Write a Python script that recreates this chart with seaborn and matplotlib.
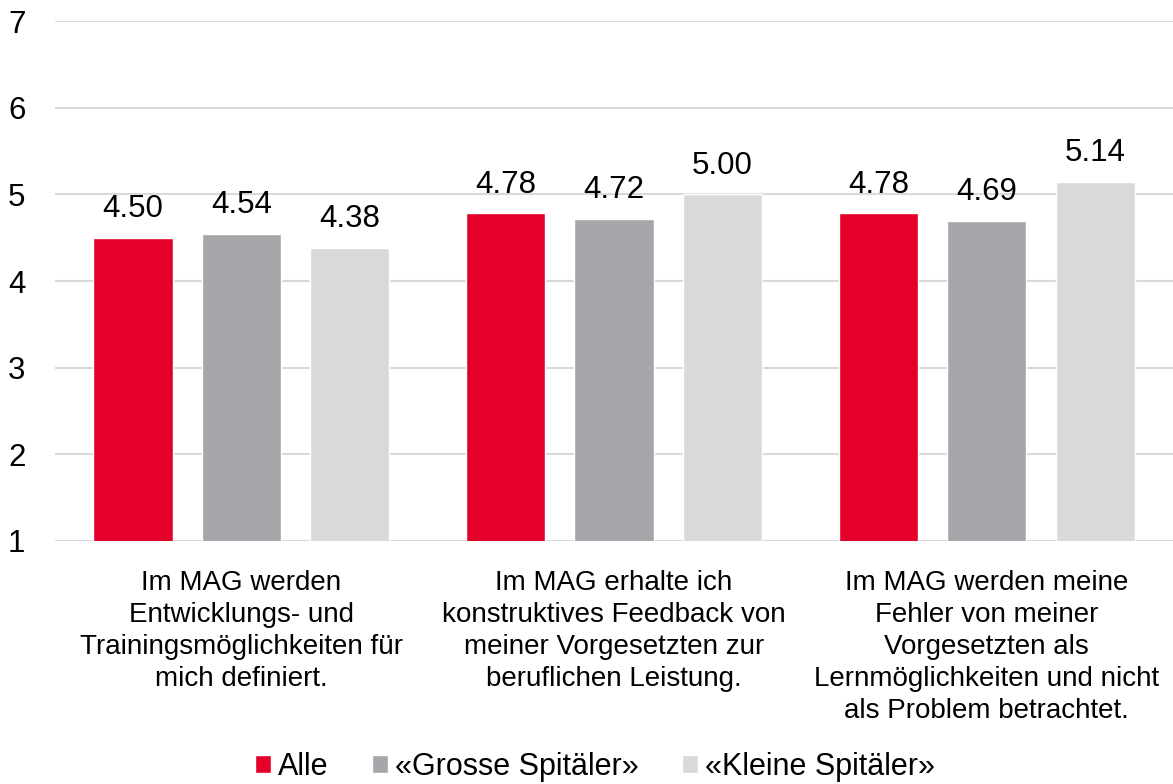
import matplotlib
matplotlib.use("Agg")
import matplotlib.pyplot as plt
import seaborn as sns
import pandas as pd

# Values
categories = [
    "Im MAG werden\nEntwicklungs- und\nTrainingsmöglichkeiten für\nmich definiert.",
    "Im MAG erhalte ich\nkonstruktives Feedback von\nmeiner Vorgesetzten zur\nberuflichen Leistung.",
    "Im MAG werden meine\nFehler von meiner\nVorgesetzten als\nLernmöglichkeiten und nicht\nals Problem betrachtet.",
]
groups = ["Alle", "«Grosse Spitäler»", "«Kleine Spitäler»"]
alle = [4.50, 4.78, 4.78]
grosse = [4.54, 4.72, 4.69]
kleine = [4.38, 5.00, 5.14]
colors = ["#E4002B", "#A5A6A9", "#D9D9D9"]

rows = []
for g, vals in zip(groups, [alle, grosse, kleine]):
    for c, v in zip(categories, vals):
        rows.append({"Kategorie": c, "Gruppe": g, "Wert": v})
df = pd.DataFrame(rows)

sns.set_style("white")
plt.rcParams["font.family"] = ["Liberation Sans", "DejaVu Sans"]
plt.rcParams["text.color"] = "black"
plt.rcParams["xtick.color"] = "black"
plt.rcParams["ytick.color"] = "black"

fig = plt.figure(figsize=(11.73, 7.84), dpi=100)
ax = fig.add_axes([0.047, 0.31, 0.953, 0.663])

sns.barplot(data=df, x="Kategorie", y="Wert", hue="Gruppe", order=categories,
            hue_order=groups, palette=colors, width=0.873, gap=0.27,
            saturation=1, ax=ax, legend=True)

for cont in ax.containers:
    ax.bar_label(cont, fmt="%.2f", padding=10, fontsize=22.5, color="black")

ax.set_ylim(1, 7)
ax.set_xlim(-0.5, 2.5)
ax.set_yticks(range(1, 8))
ax.yaxis.grid(True, color="#D9D9D9", linewidth=1.5)
ax.set_axisbelow(True)
for s in ax.spines.values():
    s.set_visible(False)
ax.set_xlabel("")
ax.set_ylabel("")
ax.tick_params(axis="y", labelsize=22.5, length=0, pad=34)
for lab in ax.get_yticklabels():
    lab.set_horizontalalignment("left")
ax.tick_params(axis="x", labelsize=20, length=0, pad=21)
for lab in ax.get_xticklabels():
    lab.set_linespacing(1.3)

ax.legend(loc="upper center", bbox_to_anchor=(0.483, -0.376), ncol=3,
          frameon=False, fontsize=22, handlelength=0.52, handleheight=0.52,
          handletextpad=0.25, columnspacing=1.4, borderpad=0)

fig.savefig("out.png", dpi=100)
